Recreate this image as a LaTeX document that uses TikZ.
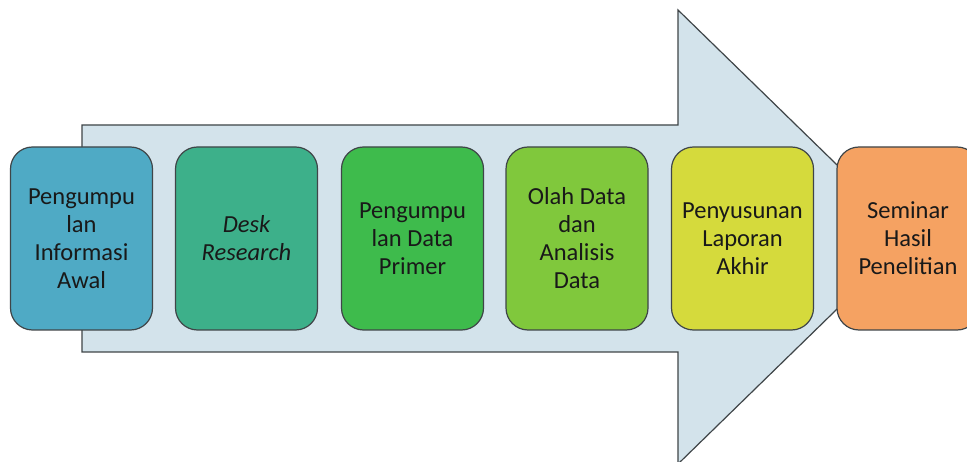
\documentclass[tikz,border=0pt]{standalone}
\usepackage{fontspec}
\setmainfont{Carlito}
\usepackage{tikz}
\definecolor{arrowfill}{HTML}{D3E3EB}
\definecolor{edgegray}{HTML}{3F4548}
\definecolor{stepblue}{HTML}{4FAAC5}
\definecolor{stepteal}{HTML}{3DB08A}
\definecolor{stepgreen}{HTML}{3EBB4C}
\definecolor{steplime}{HTML}{80C83C}
\definecolor{stepyellow}{HTML}{D5DA3C}
\definecolor{steporange}{HTML}{F5A262}
\tikzset{bigarrow/.style={fill=arrowfill, draw=edgegray, line width=1.2pt, line join=miter}}
\tikzset{stage/.style={draw=edgegray, line width=1.2pt, rounded corners=22pt,
    minimum width=142pt, minimum height=183pt, align=center, text=black!90,
    font=\fontsize{24.5}{28}\selectfont}}

\begin{document}
\begin{tikzpicture}[x=1pt, y=-1pt]
    \useasboundingbox (0,0) rectangle (967,462);
    \clip (0,0) rectangle (967,462);
    \fill[white] (0,0) rectangle (967,462);
    % process arrow behind the steps
    \draw[bigarrow] (82,125) -- (678,125) -- (678,10) -- (911,237) -- (678,464)
        -- (678,352) -- (82,352) -- cycle;
    % steps
    \node[stage, fill=stepblue] (info) at (81.5, 238.5) {Pengumpu\\lan\\Informasi\\Awal};
    \node[stage, fill=stepteal] (desk) at (246.5, 238.5) {\itshape Desk\\\itshape Research};
    \node[stage, fill=stepgreen] (primer) at (412.5, 238.5) {Pengumpu\\lan Data\\Primer};
    \node[stage, fill=steplime] (olah) at (577, 238.5) {Olah Data\\dan\\Analisis\\Data};
    \node[stage, fill=stepyellow] (lapor) at (742.5, 238.5) {Penyusunan\\Laporan\\Akhir};
    \node[stage, fill=steporange] (seminar) at (908, 238.5) {Seminar\\Hasil\\Penelitian};
\end{tikzpicture}
\end{document}
